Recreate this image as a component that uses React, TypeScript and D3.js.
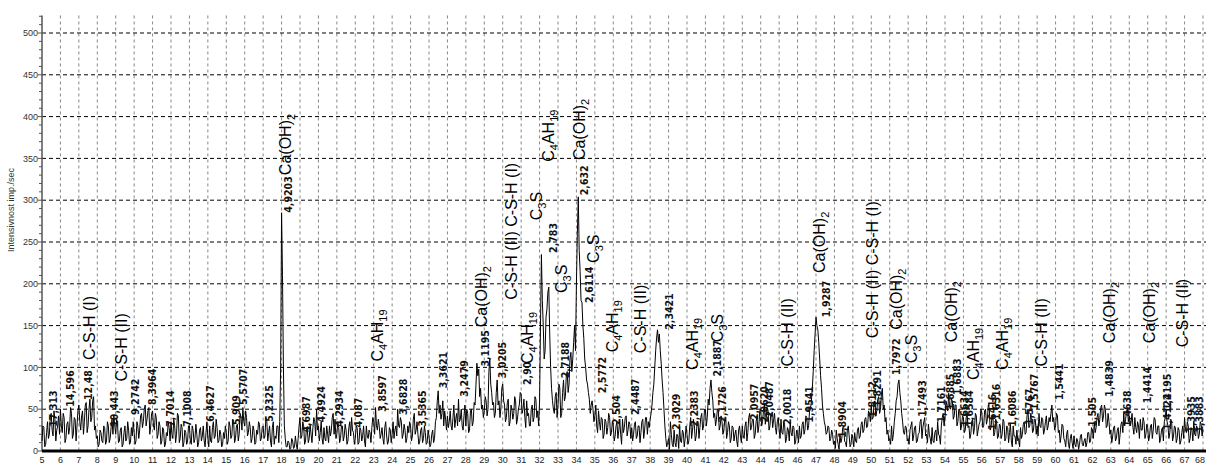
import React from 'react';
import * as d3 from 'd3';

// scan settings (2-theta, degrees)
const scanStart = 5;
const scanStep = 0.05;

// measured intensity, imp./sec — one row per degree (x.00 .. x.95), last value is 68.00
const intensity = [
  12, 30, 28, 5, 8, 22, 35, 15, 20, 40, 45, 25, 18, 48, 38, 12, 25, 30, 42, 20,
  50, 30, 22, 45, 40, 10, 15, 32, 35, 20, 28, 52, 45, 15, 20, 40, 38, 12, 30, 48,
  55, 35, 25, 42, 48, 20, 35, 55, 58, 22, 30, 50, 62, 35, 40, 60, 65, 25, 30, 15,
  18, 5, 8, 25, 22, 12, 10, 30, 28, 8, 12, 35, 30, 10, 15, 28, 38, 20, 42, 30,
  20, 38, 32, 10, 12, 25, 28, 5, 8, 22, 30, 12, 15, 35, 25, 8, 10, 28, 18, 35,
  22, 8, 12, 35, 30, 15, 25, 42, 45, 28, 35, 50, 55, 30, 38, 48, 52, 20, 30, 45,
  48, 30, 25, 45, 40, 15, 20, 35, 30, 8, 12, 28, 25, 5, 8, 22, 18, 35, 28, 12,
  35, 20, 15, 38, 30, 10, 20, 45, 42, 10, 15, 32, 28, 5, 10, 25, 22, 8, 12, 30,
  30, 12, 8, 30, 25, 10, 15, 32, 20, 5, 10, 25, 28, 12, 18, 30, 12, 5, 22, 35,
  15, 5, 30, 12, 10, 28, 35, 15, 18, 38, 28, 10, 12, 25, 20, 5, 8, 22, 15, 30,
  22, 8, 12, 35, 30, 15, 18, 38, 35, 10, 15, 30, 32, 12, 20, 45, 40, 25, 52, 35,
  30, 48, 40, 18, 22, 35, 28, 10, 15, 30, 25, 8, 10, 25, 20, 35, 32, 12, 15, 28,
  30, 15, 18, 40, 35, 12, 22, 30, 12, 5, 28, 35, 8, 18, 15, 30, 30, 10, 35, 100,
  285, 210, 100, 30, 15, 5, 5, 12, 10, 2, 3, 15, 12, 3, 5, 18, 8, 2, 15, 30,
  40, 15, 18, 35, 30, 8, 12, 28, 25, 10, 15, 32, 20, 10, 28, 40, 35, 18, 50, 25,
  30, 12, 22, 35, 15, 8, 28, 15, 12, 30, 20, 10, 30, 18, 25, 40, 45, 20, 38, 15,
  20, 35, 28, 10, 15, 30, 30, 12, 18, 32, 25, 8, 12, 28, 35, 18, 40, 25, 22, 8,
  15, 30, 28, 8, 10, 28, 25, 12, 18, 30, 12, 5, 30, 18, 15, 25, 22, 10, 28, 40,
  35, 20, 52, 30, 25, 38, 30, 15, 20, 28, 15, 8, 28, 35, 18, 8, 12, 28, 25, 10,
  20, 35, 15, 25, 30, 18, 50, 30, 28, 40, 35, 15, 20, 32, 25, 10, 15, 30, 22, 35,
  30, 12, 18, 38, 45, 20, 25, 35, 20, 8, 12, 25, 28, 10, 15, 30, 22, 8, 10, 25,
  18, 5, 8, 20, 25, 10, 15, 35, 40, 60, 72, 45, 55, 38, 45, 60, 30, 48, 38, 25,
  42, 28, 35, 48, 30, 25, 40, 55, 28, 38, 45, 30, 62, 35, 38, 50, 30, 25, 42, 55,
  30, 50, 45, 22, 25, 48, 50, 30, 35, 58, 55, 80, 105, 90, 98, 65, 75, 50, 55, 40,
  48, 65, 60, 42, 50, 95, 110, 80, 70, 55, 58, 40, 45, 70, 85, 55, 60, 40, 50, 75,
  80, 60, 55, 35, 40, 58, 62, 30, 35, 55, 50, 38, 45, 65, 60, 32, 38, 50, 55, 70,
  68, 45, 50, 62, 40, 28, 60, 42, 45, 30, 30, 50, 55, 35, 40, 65, 62, 40, 48, 30,
  60, 150, 235, 180, 150, 110, 120, 160, 170, 190, 196, 140, 100, 75, 60, 50, 45, 65, 70, 40,
  55, 80, 75, 40, 45, 70, 85, 60, 65, 90, 95, 70, 80, 110, 118, 95, 110, 130, 150, 120,
  200, 260, 304, 240, 215, 180, 178, 150, 135, 110, 100, 85, 80, 70, 62, 45, 55, 60, 50, 35,
  42, 55, 30, 22, 48, 35, 25, 40, 38, 15, 20, 38, 35, 20, 28, 45, 40, 18, 22, 35,
  30, 12, 18, 30, 35, 15, 25, 38, 20, 8, 38, 22, 28, 40, 42, 18, 25, 35, 32, 15,
  28, 12, 20, 32, 35, 15, 18, 30, 30, 10, 22, 35, 38, 15, 25, 40, 40, 20, 35, 28,
  38, 45, 55, 70, 80, 100, 120, 135, 145, 130, 140, 120, 105, 85, 70, 50, 30, 15, 5, 10,
  15, 2, 35, 20, 8, 5, 25, 10, 5, 20, 18, 3, 30, 12, 10, 25, 22, 5, 15, 30,
  20, 8, 12, 30, 40, 15, 25, 38, 30, 12, 18, 35, 35, 15, 28, 40, 45, 25, 30, 50,
  50, 30, 40, 62, 55, 75, 85, 70, 60, 40, 45, 30, 38, 50, 48, 25, 30, 42, 35, 20,
  25, 38, 40, 15, 22, 35, 30, 10, 15, 30, 28, 12, 20, 25, 12, 5, 25, 30, 18, 10,
  30, 18, 15, 30, 35, 12, 22, 40, 45, 25, 28, 38, 38, 15, 20, 35, 42, 22, 30, 48,
  50, 30, 35, 48, 55, 32, 40, 52, 48, 25, 30, 45, 45, 28, 38, 45, 28, 20, 35, 40,
  25, 15, 38, 22, 20, 35, 30, 10, 15, 28, 25, 12, 35, 22, 18, 30, 28, 8, 12, 25,
  22, 10, 30, 15, 18, 32, 35, 20, 25, 42, 40, 25, 30, 48, 50, 60, 75, 95, 120, 140,
  160, 150, 145, 130, 110, 90, 75, 55, 45, 35, 30, 20, 22, 30, 28, 12, 15, 25, 20, 8,
  12, 3, 25, 15, 8, 2, 20, 10, 15, 28, 30, 12, 10, 5, 25, 30, 18, 5, 8, 20,
  15, 5, 22, 12, 10, 25, 28, 15, 18, 32, 35, 22, 25, 38, 40, 28, 30, 48, 45, 35,
  55, 38, 40, 58, 60, 42, 48, 62, 65, 45, 50, 68, 75, 50, 55, 35, 40, 20, 25, 12,
  15, 8, 30, 12, 20, 35, 45, 60, 65, 80, 85, 70, 60, 45, 35, 22, 20, 30, 28, 12,
  15, 8, 25, 30, 35, 12, 18, 28, 30, 10, 12, 20, 22, 35, 38, 15, 28, 35, 40, 18,
  20, 10, 32, 20, 15, 8, 28, 12, 10, 22, 25, 12, 35, 20, 18, 8, 30, 40, 45, 30,
  40, 60, 55, 48, 69, 52, 50, 62, 60, 38, 42, 55, 55, 30, 35, 50, 48, 25, 30, 42,
  40, 22, 25, 40, 45, 28, 30, 15, 20, 35, 38, 20, 28, 45, 42, 18, 25, 32, 35, 50,
  45, 28, 30, 48, 50, 32, 38, 55, 52, 25, 28, 42, 40, 18, 22, 38, 35, 15, 18, 32,
  30, 15, 20, 38, 35, 12, 15, 30, 28, 10, 22, 32, 12, 5, 30, 18, 18, 8, 25, 12,
  15, 5, 28, 15, 20, 32, 35, 20, 22, 42, 50, 28, 30, 45, 40, 22, 25, 38, 38, 20,
  30, 18, 45, 30, 28, 40, 38, 20, 25, 35, 42, 25, 30, 40, 35, 45, 55, 35, 40, 25,
  30, 45, 42, 22, 25, 10, 18, 32, 30, 15, 12, 5, 20, 25, 8, 3, 15, 20, 10, 3,
  18, 8, 5, 15, 12, 2, 8, 18, 20, 8, 6, 12, 15, 5, 10, 22, 22, 10, 12, 28,
  25, 15, 35, 22, 28, 40, 45, 30, 38, 52, 55, 35, 42, 55, 50, 28, 30, 45, 35, 20,
  25, 10, 18, 28, 30, 12, 15, 25, 28, 8, 20, 32, 35, 22, 45, 30, 38, 48, 50, 35,
  42, 30, 35, 45, 28, 20, 40, 28, 22, 35, 30, 15, 38, 25, 25, 40, 35, 15, 20, 32,
  28, 12, 18, 30, 32, 15, 25, 40, 38, 22, 20, 30, 30, 10, 15, 25, 28, 12, 35, 40,
  50, 35, 30, 15, 22, 38, 35, 12, 18, 30, 28, 10, 15, 28, 25, 8, 12, 22, 30, 15,
  40, 25, 22, 35, 30, 10, 15, 28, 25, 12, 35, 20, 18, 30, 28, 15, 20, 35, 32, 18,
  25,
];

const xTicks = d3.range(5, 69);
const yTicks = d3.range(0, 501, 50);
const yMinorTicks = d3.range(0, 521, 10).filter(v => v % 50 !== 0);

// d-spacing labels: text, 2-theta of label, intensity where the text starts
const dLabels = [
  '17,313', '14,596', '12,48', '10,443', '9,2742', '8,3964', '7,7014', '7,1008', '6,4627', '5,909',
  '5,5707', '5,2325', '4,9203', '4,6987', '4,4924', '4,2934', '4,087', '3,8597', '3,6828', '3,5365',
  '3,3621', '3,2479', '3,1195', '3,0205', '2,90', '2,783', '2,7188', '2,632', '2,6114', '2,5772',
  '2,504', '2,4487', '2,3421', '2,3029', '2,2383', '2,1887', '2,1726', '2,0957', '2,0620', '2,0487',
  '2,0018', '1,9541', '1,9287', '1,8904', '1,8291', '1,8112', '1,7972', '1,7493', '1,7161', '1,6885',
  '1,6883', '1,6634', '1,6584', '1,6416', '1,6316', '1,6086', '1,5767', '1,5767', '1,5441', '1,505',
  '1,4839', '1,4638', '1,4414', '1,4195', '1,4122', '1,3935', '1,3883',
];
const dPos = [
  5.6, 6.52, 7.5, 8.96, 10.05, 11.02, 11.95, 12.92, 14.12, 15.58,
  15.91, 17.37, 18.35, 19.38, 20.19, 21.17, 22.15, 23.45, 24.59, 25.67,
  26.76, 27.95, 29.04, 30.01, 31.32, 32.73, 33.38, 34.46, 34.73, 35.39,
  36.2, 37.18, 39.07, 39.45, 40.43, 41.68, 41.9, 43.69, 44.23, 44.5,
  45.48, 46.67, 47.59, 48.46, 50.36, 50.09, 51.39, 52.8, 53.83, 54.32,
  54.7, 55.08, 55.35, 56.6, 56.82, 57.69, 58.61, 58.88, 60.24, 62.03,
  62.95, 63.93, 65.01, 66.1, 66.1, 67.4, 67.83,
];
const dBase = [
  29, 53, 61, 29, 43, 55, 29, 29, 35, 31,
  55, 35, 285, 22, 34, 29, 28, 47, 43, 29,
  75, 65, 101, 87, 79, 237, 87, 306, 177, 69,
  31, 43, 145, 25, 29, 89, 34, 37, 34, 40,
  31, 34, 160, 16, 53, 40, 91, 41, 34, 49,
  67, 29, 29, 25, 37, 29, 31, 49, 61, 29,
  65, 29, 57, 49, 25, 22, 22,
];

// phase labels ("_n" = subscript)
const phaseLabels = [
  'C-S-H (I)', 'C-S-H (II)', 'Ca(OH)_2', 'C_4AH_19', 'Ca(OH)_2', 'C-S-H (II) C-S-H (I)', 'C_4AH_19',
  'C_3S', 'C_4AH_19', 'Ca(OH)_2', 'C_3S', 'C_3S', 'C_4AH_19', 'C-S-H (II)', 'C_4AH_19', 'C_3S',
  'C-S-H (II)', 'Ca(OH)_2', 'C-S-H (II) C-S-H (I)', 'Ca(OH)_2', 'C_3S', 'Ca(OH)_2', 'C_4AH_19',
  'C_4AH_19', 'C-S-H (II)', 'Ca(OH)_2', 'Ca(OH)_2', 'C-S-H (II)',
];
const phasePos = [
  7.6, 9.34, 18.19, 23.18, 28.87, 30.5, 31.33,
  31.86, 32.51, 34.19, 33.21, 34.9, 35.98, 37.45, 40.32, 41.68,
  45.48, 47.21, 50.09, 51.39, 52.2, 54.38, 55.52,
  57.14, 59.26, 62.95, 65.12, 66.91,
];
const phaseBase = [
  109, 83, 330, 107, 148, 181, 104,
  276, 346, 348, 189, 225, 118, 117, 97, 130,
  101, 213, 135, 145, 105, 130, 85,
  97, 101, 129, 129, 124,
];

const chem = (s: string) => {
  const parts = s.split(/(_\d+)/).filter(Boolean);
  let sub = false;
  return parts.map((p, i) => {
    if (p.startsWith('_')) {
      sub = true;
      return <tspan key={i} dy={4} fontSize={11}>{p.slice(1)}</tspan>;
    }
    const dy = sub ? -4 : 0;
    sub = false;
    return <tspan key={i} dy={dy}>{p}</tspan>;
  });
};

export default function App() {
  const width = 1206;
  const height = 466;

  const x = d3.scaleLinear().domain([5, 68]).range([42, 1203]);
  const y = d3.scaleLinear().domain([0, 500]).range([451, 33]);
  const yTop = y(521);

  const points: [number, number][] = intensity.map((v, i) => [scanStart + i * scanStep, v]);
  const line = d3.line<[number, number]>().x(d => x(d[0])).y(d => y(d[1]));

  return (
    <svg width={width} height={height} style={{ position: 'absolute', left: 0, top: 0, background: '#fff' }}
      fontFamily="'Liberation Sans', Arial, sans-serif">
      {/* vertical grid */}
      {xTicks.filter(t => t > 5).map(t => (
        <line key={'gx' + t} x1={x(t)} x2={x(t)} y1={yTop} y2={y(0)} stroke="#888" strokeWidth={1}
          strokeDasharray="3,3" />
      ))}
      {/* horizontal grid */}
      {yTicks.filter(t => t > 0).map(t => (
        <line key={'gy' + t} x1={x(5)} x2={width} y1={y(t)} y2={y(t)} stroke="#000" strokeWidth={1}
          strokeDasharray="4,3" />
      ))}

      {/* y axis */}
      <line x1={x(5)} x2={x(5)} y1={yTop} y2={y(0)} stroke="#555" strokeWidth={1.5} />
      {yMinorTicks.map(t => (
        <line key={'ym' + t} x1={x(5) - 3} x2={x(5)} y1={y(t)} y2={y(t)} stroke="#555" />
      ))}
      {yTicks.map(t => (
        <g key={'yt' + t}>
          <line x1={x(5) - 4} x2={x(5)} y1={y(t)} y2={y(t)} stroke="#555" />
          <text x={x(5) - 4} y={y(t)} dy="0.35em" textAnchor="end" fontSize={9} fill="#333">{t}</text>
        </g>
      ))}
      <text transform={`translate(14,210) rotate(-90)`} textAnchor="middle" fontSize={9} fill="#333">
        Intensivnost imp./sec
      </text>

      {/* trace */}
      <path d={line(points) || ''} fill="none" stroke="#000" strokeWidth={1} strokeLinejoin="round" />

      {/* x axis */}
      <line x1={x(5)} x2={width} y1={y(0)} y2={y(0)} stroke="#000" strokeWidth={3} />
      {xTicks.map((t, i) => {
        const last = i === xTicks.length - 1;
        return (
          <text key={'xt' + t} x={last ? width - 1 : x(t)} y={459.5} dy="0.35em"
            textAnchor={last ? 'end' : 'middle'} fontSize={9} fill="#222">{t}</text>
        );
      })}

      {/* d-spacing labels */}
      {dLabels.map((s, i) => {
        const px = x(dPos[i]) + 3.5;
        const py = y(dBase[i]);
        return (
          <text key={'d' + i} x={px} y={py} transform={`rotate(-90,${px},${py})`} fontSize={10.5}
            fontWeight="bold" fontFamily="'Liberation Sans Narrow', 'DejaVu Sans Condensed', sans-serif"
            fill="#111">{s}</text>
        );
      })}

      {/* phase labels */}
      {phaseLabels.map((s, i) => {
        const px = x(phasePos[i]) + 5.5;
        const py = y(phaseBase[i]);
        return (
          <text key={'p' + i} x={px} y={py} transform={`rotate(-90,${px},${py})`} fontSize={16} fill="#000">
            {chem(s)}
          </text>
        );
      })}
    </svg>
  );
}
